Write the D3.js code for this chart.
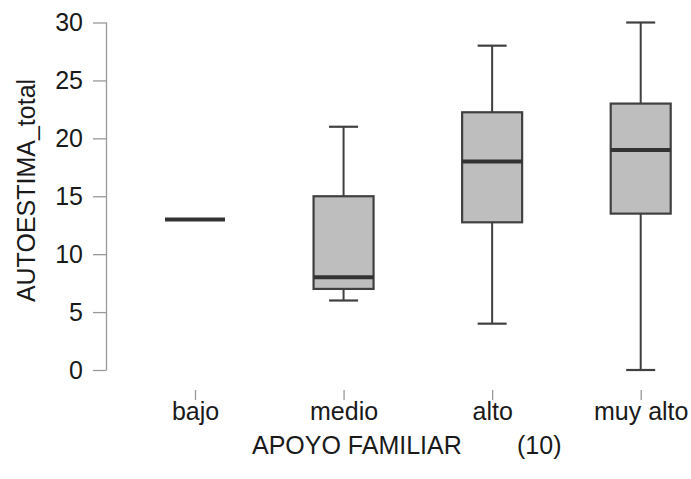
<!DOCTYPE html>
<html><head><meta charset="utf-8">
<script src="https://cdn.jsdelivr.net/npm/d3@7"></script>
<style>body{margin:0;background:#fff}svg{display:block}text{font-family:"Liberation Sans",Arial,sans-serif;fill:#1a1a1a}</style>
</head><body><svg id="c" width="691" height="479"></svg>
<script>
const categories = ["bajo", "medio", "alto", "muy alto"];
const whiskerLow = [13, 6, 4, 0];
const q1 = [13, 7, 12.75, 13.5];
const median = [13, 8, 18, 19];
const q3 = [13, 15, 22.25, 23];
const whiskerHigh = [13, 21, 28, 30];
const yTicks = [0, 5, 10, 15, 20, 25, 30];

const svg = d3.select("#c");
const x = d3.scalePoint().domain(categories).range([195, 640.7]);
const y = d3.scaleLinear().domain([0, 30]).range([370, 22.5]);
const boxW = 60, capW = 29;
const FS = "25px";

// y axis
const ya = svg.append("g").attr("transform", "translate(106.5,0)")
  .call(d3.axisLeft(y).tickValues(yTicks).tickSize(13.5).tickPadding(10));
ya.select(".domain").attr("stroke", "#999").attr("stroke-width", 1.3).attr("d", `M0,${y(30)}V${y(0)}`);
ya.selectAll(".tick line").attr("stroke", "#999").attr("stroke-width", 1.3);
ya.selectAll(".tick text").style("font-size", FS).attr("fill", "#1a1a1a");

// x axis ticks (no domain)
const xa = svg.append("g").attr("transform", "translate(0,390)")
  .call(d3.axisBottom(x).tickSize(10).tickPadding(2));
xa.select(".domain").remove();
xa.selectAll(".tick line").attr("stroke", "#999").attr("stroke-width", 1.3);
xa.selectAll(".tick text").style("font-size", FS).attr("fill", "#1a1a1a");

const data = categories.map((c, i) => ({c, lo: whiskerLow[i], q1: q1[i], med: median[i], q3: q3[i], hi: whiskerHigh[i]}));
const g = svg.append("g");
data.forEach(d => {
  const cx = x(d.c);
  const col = "#404040";
  if (d.hi > d.q3) {
    g.append("line").attr("x1", cx).attr("x2", cx).attr("y1", y(d.q3)).attr("y2", y(d.hi)).attr("stroke", col).attr("stroke-width", 2);
    g.append("line").attr("x1", cx - capW/2).attr("x2", cx + capW/2).attr("y1", y(d.hi)).attr("y2", y(d.hi)).attr("stroke", col).attr("stroke-width", 2.2);
  }
  if (d.lo < d.q1) {
    g.append("line").attr("x1", cx).attr("x2", cx).attr("y1", y(d.q1)).attr("y2", y(d.lo)).attr("stroke", col).attr("stroke-width", 2);
    g.append("line").attr("x1", cx - capW/2).attr("x2", cx + capW/2).attr("y1", y(d.lo)).attr("y2", y(d.lo)).attr("stroke", col).attr("stroke-width", 2.2);
  }
  if (d.q3 > d.q1) {
    g.append("rect").attr("x", cx - boxW/2).attr("width", boxW).attr("y", y(d.q3)).attr("height", y(d.q1) - y(d.q3))
      .attr("fill", "#bebebe").attr("stroke", col).attr("stroke-width", 2.2);
  }
  g.append("line").attr("x1", cx - boxW/2).attr("x2", cx + boxW/2).attr("y1", y(d.med)).attr("y2", y(d.med)).attr("stroke", "#333").attr("stroke-width", 4);
});

// titles
svg.append("text").attr("transform", `translate(35,190.5) rotate(-90)`).attr("text-anchor", "middle")
  .style("font-size", FS).text("AUTOESTIMA_total");
svg.append("text").attr("x", 252).attr("y", 454).style("font-size", FS).text("APOYO FAMILIAR");
svg.append("text").attr("x", 517).attr("y", 454).style("font-size", FS).text("(10)");
</script></body></html>
